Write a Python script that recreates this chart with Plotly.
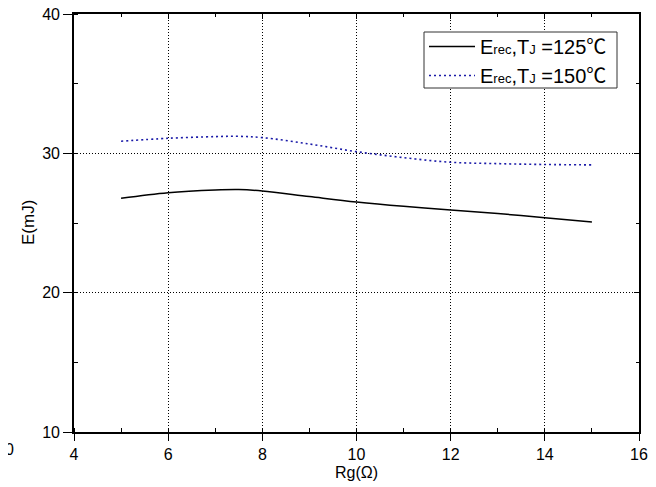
import plotly.graph_objects as go

rg = [5, 6, 7, 7.5, 8, 9, 10, 11, 12, 13, 14, 15]
e_125 = [26.78, 27.18, 27.37, 27.4, 27.3, 26.9, 26.51, 26.2, 25.94, 25.68, 25.38, 25.07]
e_150 = [30.87, 31.08, 31.2, 31.22, 31.13, 30.67, 30.12, 29.69, 29.36, 29.26, 29.2, 29.17]
DEG = '<span style="font-family:Noto Sans CJK SC">℃</span>'
names = ['E<span style="font-size:13px">rec</span>,T<span style="font-size:13px">J</span> =125' + DEG,
         'E<span style="font-size:13px">rec</span>,T<span style="font-size:13px">J</span> =150' + DEG]
x_ticks = [4, 6, 8, 10, 12, 14, 16]
y_ticks = [10, 20, 30, 40]

FONT = "Liberation Sans, Arial, Noto Sans CJK SC, sans-serif"

# page-pixel geometry of the plot area (page has 8px body margin)
PL, PR, PT, PB = 74, 639, 14, 432
PW, PH = PR - PL, PB - PT


def px(p):
    return (p - PL) / PW


def py(p):
    return (PB - p) / PH


fig = go.Figure()
fig.add_trace(go.Scatter(x=rg, y=e_125, mode="lines", name=names[0],
                         line=dict(color="black", width=1.5, shape="spline")))
fig.add_trace(go.Scatter(x=rg, y=e_150, mode="lines", name=names[1],
                         line=dict(color="#1a1aa8", width=1.6, dash="2px,3px", shape="spline")))

common = dict(showline=True, linecolor="black", linewidth=1.6, zeroline=False, automargin=False)
fig.update_layout(
    width=656, height=487,
    margin=dict(l=PL - 8, r=656 - (PR - 8), t=PT - 8, b=487 - (PB - 8)),
    paper_bgcolor="white", plot_bgcolor="white",
    font=dict(family=FONT, color="black", size=16),
    showlegend=True,
    legend=dict(x=px(424), y=py(27), xanchor="left", yanchor="top",
                borderwidth=0, bgcolor="rgba(0,0,0,0)",
                font=dict(size=20, family=FONT), itemwidth=46, tracegroupgap=0),
    xaxis=dict(range=[4, 16], tickvals=x_ticks, ticks="outside", ticklen=7, tickwidth=1.2,
               tickcolor="black", showgrid=True, gridcolor="black", gridwidth=1, griddash="1px,2px",
               minor=dict(dtick=1, ticks="inside", ticklen=4, tickcolor="black", showgrid=False),
               tickfont=dict(size=16), ticklabeloverflow="allow", **common),
    yaxis=dict(range=[10, 40], tickvals=y_ticks, ticks="outside", ticklen=9, tickwidth=1.2,
               tickcolor="black", showgrid=True, gridcolor="black", gridwidth=1, griddash="1px,2px",
               minor=dict(dtick=5, ticks="inside", ticklen=4, tickcolor="black", showgrid=False),
               tickfont=dict(size=16), ticklabeloverflow="allow", **common),
    xaxis2=dict(range=[4, 16], overlaying="x", side="top", anchor="y", tickvals=x_ticks,
                ticks="inside", ticklen=5, tickcolor="black", showticklabels=False, showgrid=False,
                minor=dict(dtick=1, ticks="inside", ticklen=3, tickcolor="black"), **common),
    yaxis2=dict(range=[10, 40], overlaying="y", side="right", anchor="x", tickvals=y_ticks,
                ticks="inside", ticklen=5, tickcolor="black", showticklabels=False, showgrid=False,
                minor=dict(dtick=5, ticks="inside", ticklen=3, tickcolor="black"), **common),
)

fig.add_trace(go.Scatter(x=rg, y=e_125, xaxis="x2", yaxis="y2", mode="lines",
                         line=dict(width=0), opacity=0, showlegend=False, hoverinfo="skip"))

# legend frame
fig.add_shape(type="rect", xref="paper", yref="paper", x0=px(424), x1=px(617), y0=py(88), y1=py(32),
              line=dict(color="#333333", width=1), fillcolor="white", layer="above")

fig.add_annotation(text="Rg(Ω)", xref="paper", yref="paper", x=0.5, y=py(472),
                   xanchor="center", yanchor="middle", showarrow=False, font=dict(size=16))
fig.add_annotation(text="E(mJ)", xref="paper", yref="paper", x=px(28), y=py(223),
                   xanchor="center", yanchor="middle", textangle=-90, showarrow=False, font=dict(size=17))
fig.add_annotation(text="00", xref="paper", yref="paper", x=px(16), y=py(450),
                   xanchor="right", yanchor="middle", showarrow=False, font=dict(size=16))

fig.write_html("out.html")
